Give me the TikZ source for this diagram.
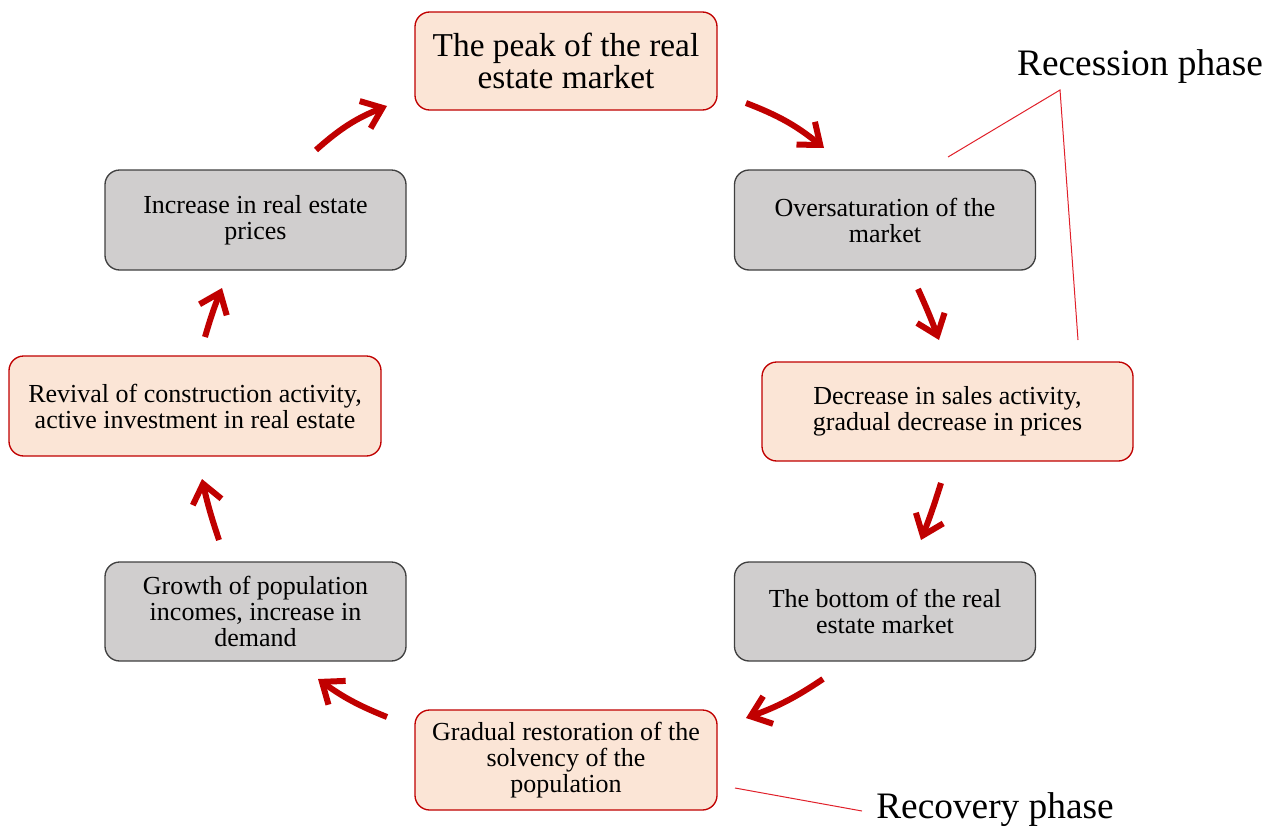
\documentclass[tikz,border=0pt]{standalone}
\usepackage{fontspec}
\setmainfont{Liberation Serif}
\usetikzlibrary{arrows.meta}
\definecolor{pinkf}{HTML}{FBE5D6}
\definecolor{redb}{HTML}{C00000}
\definecolor{grayf}{HTML}{D0CECE}
\definecolor{grayb}{HTML}{404040}
\definecolor{linered}{HTML}{E0202A}
\begin{document}
\begin{tikzpicture}[x=0.75pt,y=-0.75pt,
  box/.style={rounded corners=11pt, line width=1pt, align=center, inner sep=0pt,
    font=\fontsize{19.5}{19.5}\selectfont},
  pinkbox/.style={box, fill=pinkf, draw=redb},
  graybox/.style={box, fill=grayf, draw=grayb},
  flow/.style={draw=redb, line width=4.5pt,
    -{Straight Barb[length=14pt,width=22pt,line width=4.5pt]}},
  phaseline/.style={draw=linered, line width=0.75pt},
  phase/.style={font=\fontsize{28}{28}\selectfont, inner sep=0pt}]
\useasboundingbox (0,0) rectangle (1280,828);

\node[pinkbox, minimum width=302*0.75pt, minimum height=98*0.75pt,
  font=\fontsize{25}{24}\selectfont] (peak) at (566,61) {The peak of the real\\estate market};
\node[graybox, minimum width=301*0.75pt, minimum height=100*0.75pt] (over) at (885,220) {Oversaturation of the\\market};
\node[pinkbox, minimum width=371*0.75pt, minimum height=99*0.75pt] (decr) at (947.5,411.5) {Decrease in sales activity,\\gradual decrease in prices};
\node[graybox, minimum width=301*0.75pt, minimum height=99*0.75pt] (bottom) at (885,611.5) {The bottom of the real\\estate market};
\node[pinkbox, minimum width=302*0.75pt, minimum height=100*0.75pt] (restor) at (566,760) {Gradual restoration of the\\solvency of the\\population};
\node[graybox, minimum width=301*0.75pt, minimum height=99*0.75pt] (growth) at (255.5,611.5) {Growth of population\\incomes, increase in\\demand};
\node[pinkbox, minimum width=372*0.75pt, minimum height=100*0.75pt] (revival) at (195,406) {Revival of construction activity,\\active investment in real estate};
\node[graybox, minimum width=301*0.75pt, minimum height=100*0.75pt] (incr) at (255.5,220) {Increase in real estate\\prices};

% arrow end points
\coordinate (a1s) at (316,150); \coordinate (a1e) at (387,106);
\coordinate (a2s) at (746,103); \coordinate (a2e) at (824,148);
\coordinate (a3s) at (918,289); \coordinate (a3e) at (939,340);
\coordinate (a4s) at (941,483); \coordinate (a4e) at (921,540);
\coordinate (a5s) at (823,679); \coordinate (a5e) at (746,718);
\coordinate (a6s) at (387,717); \coordinate (a6e) at (318,679);
\coordinate (a7s) at (219,540); \coordinate (a7e) at (202,479);
\coordinate (a8s) at (205,337); \coordinate (a8e) at (222,288);

\draw[flow] (a1s) to[bend left=10] (a1e);
\draw[flow] (a2s) to[bend left=9] (a2e);
\draw[flow] (a3s) to[bend left=2] (a3e);
\draw[flow] (a4s) to[bend left=2] (a4e);
\draw[flow] (a5s) to[bend left=7] (a5e);
\draw[flow] (a6s) to[bend left=7] (a6e);
\draw[flow] (a7s) to[bend left=3] (a7e);
\draw[flow] (a8s) to[bend left=3] (a8e);

% phase labels
\node[phase] (recession) at (1140,67) {Recession phase};
\node[phase] (recovery) at (995,810) {Recovery phase};
\coordinate (rapex) at (1060,90);
\coordinate (rl1) at (948,157);
\coordinate (rl2) at (1078,340);
\draw[phaseline] (rl1) -- (rapex) -- (rl2);
\coordinate (vl1) at (735,788);
\coordinate (vl2) at (862,811);
\draw[phaseline] (vl1) -- (vl2);
\end{tikzpicture}
\end{document}
